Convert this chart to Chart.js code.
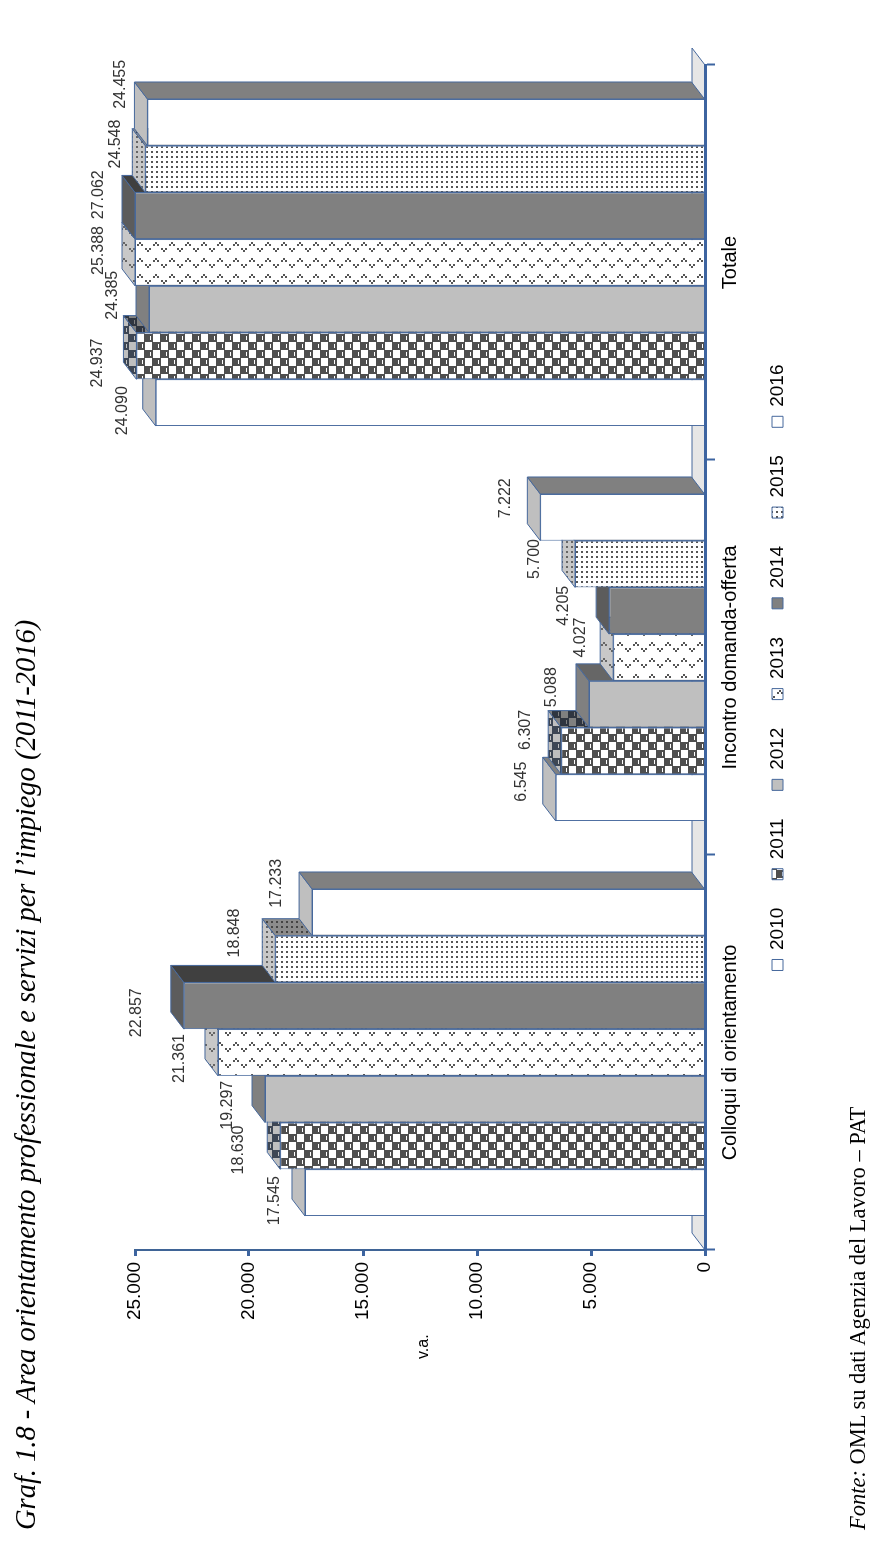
<!DOCTYPE html>
<html lang="it">
<head>
<meta charset="utf-8">
<title>Graf. 1.8</title>
<script src="https://cdn.jsdelivr.net/npm/chart.js@4"></script>
<style>
    html, body { margin: 0; padding: 0; background: #fff; width: 879px; height: 1550px; overflow: hidden; }
    #page {
        position: absolute; left: 0; top: 0; width: 1550px; height: 879px;
        transform-origin: 0 0; transform: translate(0, 1550px) rotate(-90deg);
    }
    #page canvas { position: absolute; left: 0; top: 0; }
    #page div { position: absolute; white-space: nowrap; color: #000; }
    #title { left: 20px; top: 10px; font: italic 28.5px "Liberation Serif", serif; }
    #source { left: 20px; top: 845px; font: 22.5px "Liberation Serif", serif; }
    #unit { left: 191px; top: 414px; font: 16px "Liberation Sans", sans-serif; }
</style>
</head>
<body>
<div id="page">
    <canvas id="chart" width="1550" height="879"></canvas>
    <div id="title">Graf. 1.8 - Area orientamento professionale e servizi per l’impiego (2011-2016)</div>
    <div id="unit">v.a.</div>
    <div id="source"><i>Fonte:</i> OML su dati Agenzia del Lavoro – PAT</div>
</div>
<script>
const categories = ['Colloqui di orientamento', 'Incontro domanda-offerta', 'Totale'];
const years = ['2010', '2011', '2012', '2013', '2014', '2015', '2016'];

const values2010 = [17545, 6545, 24090];
const values2011 = [18630, 6307, 24937];
const values2012 = [19297, 5088, 24385];
const values2013 = [21361, 4027, 25388];
const values2014 = [22857, 4205, 27062];
const values2015 = [18848, 5700, 24548];
const values2016 = [17233, 7222, 24455];

// how far each value label sits from the top of its bar, [along, up], one row per year
const labelShift = [
    [[-8, -30], [16, -34], [-8, -33]],
    [[-4, -42], [21, -36], [-7, -39]],
    [[-6, -37], [17, -37], [14, -36]],
    [[-6, -38], [20, -33], [12, -36]],
    [[-7, -47], [5, -46], [21, -36]],
    [[26, -41], [5, -40], [25, -30]],
    [[29, -35], [19, -35], [38, -27]]
];

const edgeColor = '#46689c';
const depthX = 17;
const depthY = 13;

function fmt(v) {
    return String(v).replace(/\B(?=(\d{3})+$)/g, '.');
}

// The whole page is turned a quarter, tiles are drawn as they look on the turned page
function tile(size, bg, paint) {
    const c = document.createElement('canvas');
    c.width = size;
    c.height = size;
    const t = c.getContext('2d');
    t.fillStyle = bg;
    t.fillRect(0, 0, size, size);
    t.setTransform(0, 1, -1, 0, size, 0);
    paint(t);
    return document.getElementById('chart').getContext('2d').createPattern(c, 'repeat');
}

function checks(bg, fg) {
    return tile(16, bg, t => {
        t.fillStyle = fg;
        t.fillRect(0, 0, 9, 8);
        t.fillRect(8, 8, 9, 8);
        t.fillRect(0, 8, 1, 8);
        t.fillStyle = bg;
        t.fillRect(6, 2, 1, 4);
        t.fillRect(14, 10, 1, 4);
    });
}

function carets(bg, fg) {
    return tile(16, bg, t => {
        t.fillStyle = fg;
        t.fillRect(11, 4, 2, 2);
        t.fillRect(9, 6, 2, 2);
        t.fillRect(13, 6, 2, 2);
        t.fillRect(3, 12, 2, 2);
        t.fillRect(1, 10, 2, 2);
        t.fillRect(5, 10, 2, 2);
    });
}

function dots(bg, fg) {
    return tile(5, bg, t => {
        t.fillStyle = fg;
        t.fillRect(1, 1, 2, 2);
    });
}

const fronts = [
    '#ffffff', checks('#ffffff', '#4f4f4f'), '#bfbfbf', carets('#ffffff', '#555555'),
    '#808080', dots('#ffffff', '#555555'), '#ffffff'
];
const tops = [
    '#bfbfbf', checks('#bfbfbf', '#3d4654'), '#808080', carets('#c8c8c8', '#666666'),
    '#5c5c5c', dots('#c8c8c8', '#666666'), '#bfbfbf'
];
const sides = [
    '#808080', checks('#808080', '#2f3540'), '#666666', carets('#8c8c8c', '#444444'),
    '#404040', dots('#8c8c8c', '#444444'), '#808080'
];

const allValues = [values2010, values2011, values2012, values2013, values2014, values2015, values2016];

const datasets = years.map((year, i) => ({
    label: year,
    data: allValues[i],
    backgroundColor: fronts[i],
    borderColor: edgeColor,
    borderWidth: 1,
    barPercentage: 1,
    categoryPercentage: 0.828
}));

function face(ctx, points, fill) {
    ctx.beginPath();
    points.forEach((p, i) => i ? ctx.lineTo(p[0], p[1]) : ctx.moveTo(p[0], p[1]));
    ctx.closePath();
    ctx.fillStyle = fill;
    ctx.fill();
    ctx.stroke();
}

const bars3d = {
    id: 'bars3d',
    afterLayout(chart) {
        // legend sits a bit left of the middle of the plot
        chart.legend.left -= 10;
        chart.legend.right -= 10;
    },
    beforeDatasetsDraw(chart) {
        const ctx = chart.ctx;
        const area = chart.chartArea;
        ctx.save();
        ctx.lineWidth = 1;
        ctx.strokeStyle = edgeColor;

        face(ctx, [
            [area.left, area.bottom], [area.right, area.bottom],
            [area.right + depthX, area.bottom - depthY], [area.left + depthX, area.bottom - depthY]
        ], '#e6e6e6');

        // left to right so every bar covers the side of the one before it
        datasets.forEach((ds, i) => {
            chart.getDatasetMeta(i).data.forEach(bar => {
                // values over the axis maximum are cut at the top of the axis
                bar.y = Math.max(bar.y, area.top);
                const l = bar.x - bar.width / 2;
                const r = bar.x + bar.width / 2;
                face(ctx, [[l, bar.y], [r, bar.y], [r + depthX, bar.y - depthY], [l + depthX, bar.y - depthY]], tops[i]);
                face(ctx, [[r, bar.y], [r + depthX, bar.y - depthY], [r + depthX, bar.base - depthY], [r, bar.base]], sides[i]);
                bar.draw(ctx);
            });
        });

        ctx.fillStyle = '#333';
        ctx.font = '16px "Liberation Sans"';
        ctx.textAlign = 'center';
        ctx.textBaseline = 'middle';
        datasets.forEach((ds, i) => {
            chart.getDatasetMeta(i).data.forEach((bar, j) => {
                const shift = labelShift[i][j];
                ctx.fillText(fmt(ds.data[j]), bar.x + shift[0], bar.y + shift[1]);
            });
        });
        ctx.restore();
        return false;
    }
};

new Chart(document.getElementById('chart'), {
    type: 'bar',
    data: { labels: categories, datasets: datasets },
    plugins: [bars3d],
    options: {
        responsive: false,
        animation: false,
        devicePixelRatio: 1,
        layout: { padding: { left: 0, right: 65, top: 135, bottom: 82 } },
        plugins: {
            tooltip: { enabled: false },
            legend: {
                position: 'bottom',
                fullSize: false,
                labels: {
                    boxWidth: 11,
                    boxHeight: 11,
                    padding: 28,
                    color: '#000',
                    font: { family: '"Liberation Sans"', size: 19 }
                }
            }
        },
        scales: {
            x: {
                afterFit: s => { s.height = 35; },
                border: { color: '#3d64a0', width: 3, z: 1 },
                grid: { drawOnChartArea: false, tickLength: 10, tickColor: '#3d64a0', tickWidth: 2 },
                ticks: {
                    color: '#000', padding: 3, maxRotation: 0, autoSkip: false,
                    font: { family: '"Liberation Sans"', size: 20 }
                }
            },
            y: {
                min: 0,
                max: 25000,
                afterFit: s => { s.width = 300; },
                border: { color: '#3f6496', width: 2 },
                grid: { drawOnChartArea: false, tickLength: 6, tickColor: '#3d64a0', tickWidth: 3 },
                ticks: {
                    stepSize: 5000, color: '#000', padding: 6,
                    font: { family: '"Liberation Sans"', size: 19 },
                    callback: v => fmt(v)
                }
            }
        }
    }
});
</script>
</body>
</html>
